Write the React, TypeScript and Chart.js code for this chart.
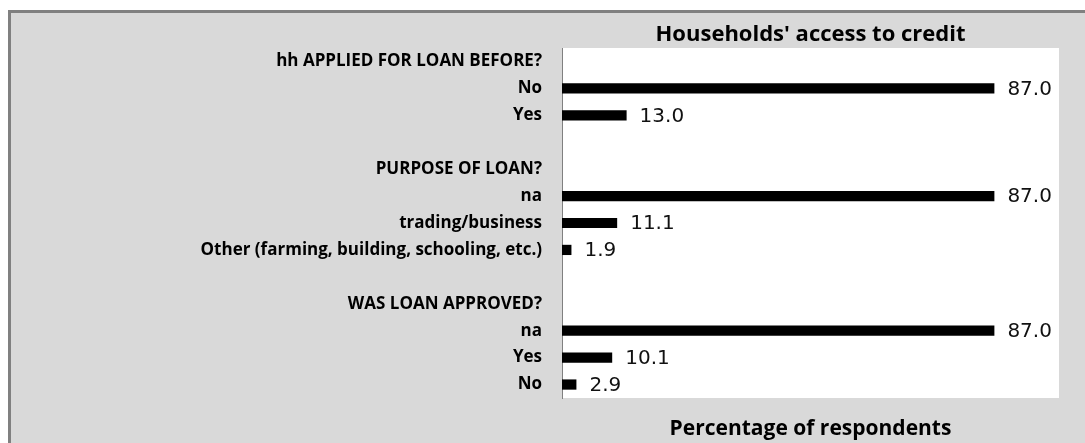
import React, { useEffect, useRef } from "react";
import { Chart, registerables } from "chart.js";

Chart.register(...registerables);

const categories: string[] = [
  "hh APPLIED FOR LOAN BEFORE?",
  "No",
  "Yes",
  "",
  "PURPOSE OF LOAN?",
  "na",
  "trading/business",
  "Other (farming, building, schooling, etc.)",
  "",
  "WAS LOAN APPROVED?",
  "na",
  "Yes",
  "No",
];

const values: (number | null)[] = [
  null, 87.0, 13.0, null, null, 87.0, 11.1, 1.9, null, null, 87.0, 10.1, 2.9,
];

const chartTitle = "Households' access to credit";
const xAxisTitle = "Percentage of respondents";
const xMin = 0;
const xMax = 100;

const CANVAS_W = 1074;
const CANVAS_H = 430;

export default function App() {
  const ref = useRef<HTMLCanvasElement | null>(null);

  useEffect(() => {
    if (!ref.current) return;
    const plotBg = {
      id: "plotBg",
      beforeDraw(chart: any) {
        const { ctx, chartArea } = chart;
        ctx.save();
        ctx.fillStyle = "#ffffff";
        ctx.fillRect(chartArea.left, chartArea.top, chartArea.right - chartArea.left, chartArea.bottom - chartArea.top);
        ctx.restore();
      },
    };
    const extras = {
      id: "extras",
      afterDraw(chart: any) {
        const { ctx, chartArea } = chart;
        ctx.save();
        // title
        ctx.fillStyle = "#000000";
        ctx.font = "bold 22px 'Open Sans'";
        ctx.textAlign = "center";
        ctx.textBaseline = "middle";
        ctx.fillText(chartTitle, (chartArea.left + chartArea.right) / 2, 22);
        // value labels
        const meta = chart.getDatasetMeta(0);
        ctx.font = "20px 'DejaVu Sans'";
        ctx.textAlign = "left";
        ctx.fillStyle = "#111111";
        meta.data.forEach((bar: any, i: number) => {
          const v = values[i];
          if (v === null || v === undefined) return;
          ctx.fillText(v.toFixed(1), bar.x + 13, bar.y + 1);
        });
        ctx.restore();
      },
    };
    const chart = new Chart(ref.current, {
      type: "bar",
      data: {
        labels: categories,
        datasets: [
          {
            data: values as any,
            backgroundColor: "#000000",
            borderWidth: 0,
            barPercentage: 0.38,
            categoryPercentage: 1,
          },
        ],
      },
      options: {
        indexAxis: "y",
        responsive: false,
        animation: false,
        layout: { padding: { left: 0, right: 26, top: 35, bottom: 0 } },
        plugins: {
          legend: { display: false },
          tooltip: { enabled: false },
          title: { display: false },
        },
        scales: {
          x: {
            min: xMin,
            max: xMax,
            grid: { display: false, drawTicks: false },
            border: { display: false },
            ticks: { display: false },
            title: {
              display: true,
              text: xAxisTitle,
              color: "#000000",
              font: { family: "Open Sans", size: 21, weight: "bold" },
              padding: { top: 0, bottom: 1 },
            },
            afterFit(scale: any) {
              scale.height = 45;
            },
          },
          y: {
            grid: { display: false, drawTicks: false },
            border: { display: true, color: "#808080", width: 1 },
            ticks: {
              color: "#000000",
              padding: 20,
              autoSkip: false,
              font: { family: "Open Sans", size: 17, weight: "bold" },
            },
            afterFit(scale: any) {
              scale.width = 551;
            },
          },
        },
      },
      plugins: [plotBg, extras],
    });
    return () => chart.destroy();
  }, []);

  return (
    <div
      style={{
        position: "fixed",
        left: 8,
        top: 10,
        width: 1077,
        height: 433,
        background: "#d9d9d9",
        borderTop: "3px solid #808080",
        borderLeft: "3px solid #808080",
        boxSizing: "border-box",
        overflow: "hidden",
      }}
    >
      <canvas ref={ref} width={CANVAS_W} height={CANVAS_H} style={{ display: "block", width: CANVAS_W, height: CANVAS_H }} />
    </div>
  );
}
